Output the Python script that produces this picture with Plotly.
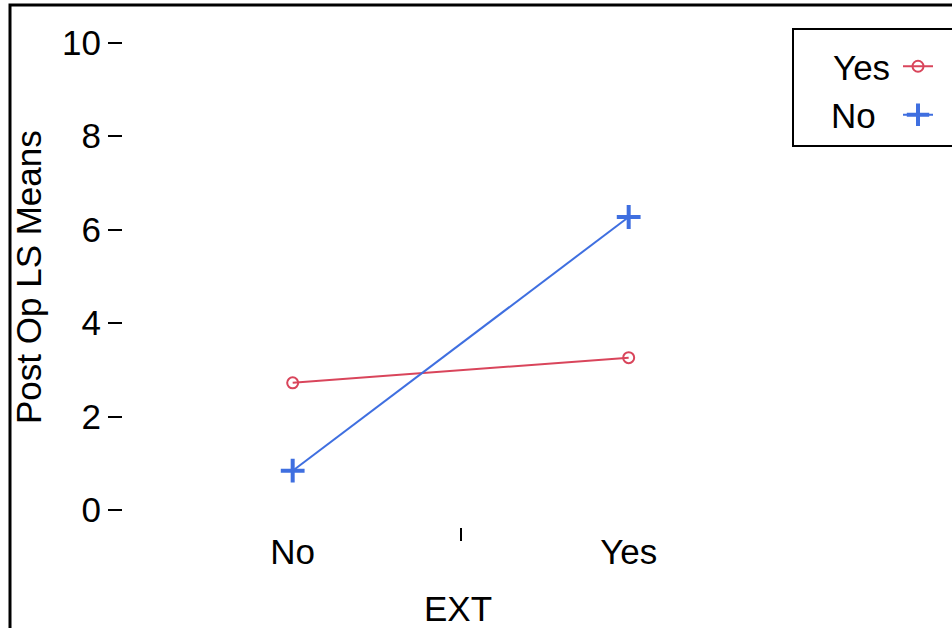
import plotly.graph_objects as go

categories = ["No", "Yes"]
x_pos = [1, 2]
series_names = ["Yes", "No"]
yes_values = [2.72, 3.26]
no_values = [0.84, 6.27]
y_ticks = [0, 2, 4, 6, 8, 10]
x_title = "EXT"
y_title = "Post Op LS Means"

RED = "#d9455b"
BLUE = "#3f6fe0"
FONT = "Arial, 'Liberation Sans', sans-serif"
FS = 35

fig = go.Figure()
fig.add_trace(go.Scatter(
    x=x_pos, y=yes_values, name="", mode="lines+markers",
    line=dict(color=RED, width=2),
    marker=dict(symbol="circle-open", size=11, color=RED, line=dict(width=2, color=RED)),
))
fig.add_trace(go.Scatter(
    x=x_pos, y=no_values, name="", mode="lines+markers",
    line=dict(color=BLUE, width=2),
    marker=dict(symbol="cross-thin-open", size=17, color=BLUE, line=dict(width=4, color=BLUE)),
))

# plot area in window pixels: x 123..795, y 25..527
L, R, T, B = 123, 795, 25, 527

def px(X):
    return (X - L) / float(R - L)

def py(Y):
    return (B - Y) / float(B - T)

fig.update_layout(
    width=952, height=628,
    margin=dict(l=L, r=952 - R, t=T, b=628 - B, autoexpand=False),
    paper_bgcolor="white", plot_bgcolor="white",
    font=dict(family=FONT, size=FS, color="black"),
    showlegend=True,
    legend=dict(
        x=px(898), y=py(37), xanchor="left", yanchor="top",
        borderwidth=0, bgcolor="rgba(0,0,0,0)",
        font=dict(size=FS), tracegroupgap=0,
    ),
    xaxis=dict(
        range=[0.495, 2.495], tickvals=x_pos, ticktext=categories, ticks="",
        ticklabelstandoff=1, automargin=False,
        showgrid=False, zeroline=False, showline=False,
        minor=dict(tickvals=[1.5], ticks="outside", ticklen=13, tickwidth=2, tickcolor="black"),
    ),
    yaxis=dict(
        range=[-0.365, 10.38], tickvals=y_ticks, ticks="outside", ticklen=14,
        tickwidth=2, tickcolor="black", automargin=False,
        showgrid=False, zeroline=False, showline=False,
    ),
    shapes=[
        dict(type="rect", xref="paper", yref="paper",
             x0=px(10), x1=px(1000), y0=py(700), y1=py(5),
             line=dict(color="black", width=3), fillcolor="rgba(0,0,0,0)", layer="below"),
        dict(type="rect", xref="paper", yref="paper",
             x0=px(793), x1=px(1000), y0=py(146), y1=py(29),
             line=dict(color="black", width=2), fillcolor="rgba(0,0,0,0)", layer="below"),
    ],
    annotations=[
        dict(text=series_names[0], xref="paper", yref="paper", x=px(831), y=py(67),
             xanchor="left", yanchor="middle", showarrow=False, font=dict(size=FS)),
        dict(text=series_names[1], xref="paper", yref="paper", x=px(829), y=py(116),
             xanchor="left", yanchor="middle", showarrow=False, font=dict(size=FS)),
        dict(text=x_title, xref="paper", yref="paper", x=px(458), y=py(608),
             xanchor="center", yanchor="middle", showarrow=False, font=dict(size=FS)),
        dict(text=y_title, xref="paper", yref="paper", x=px(28), y=py(277),
             xanchor="center", yanchor="middle", textangle=-90, showarrow=False,
             font=dict(size=FS)),
    ],
)

fig.write_html("out.html", config={"displayModeBar": False},
               post_script="document.body.style.margin='0';")
